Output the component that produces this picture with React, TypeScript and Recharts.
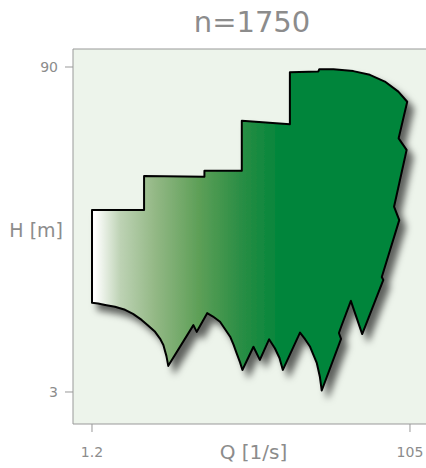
import { ScatterChart, Scatter, XAxis, YAxis, CartesianGrid, Polygon } from "recharts";

// pump envelope outline, clockwise from the top-left corner
const ENVELOPE_Q = [
  1.2, 18.2, 18.2, 37.9, 37.9, 50.1, 50.1, 65.8, 65.8, 75.1, 75.4, 80.0, 86.5, 91.9,
  96.8, 101.2, 104.1, 101.3, 103.9, 99.8, 101.5, 96.1, 95.8, 96.3, 89.4, 85.7, 82.5,
  81.8, 82.5, 76.2, 75.6, 74.6, 72.4, 70.7, 69.1, 63.5, 62.4, 60.9, 59.0, 56.0, 53.9, 50.3,
  49.5, 48.4, 47.4, 46.3, 43.0, 40.7, 38.8, 35.4, 34.3, 26.1, 25.5, 24.5, 23.4, 21.8, 19.5,
  17.4, 14.6, 12.0, 8.7, 5.5, 3.2, 1.2,
];
const ENVELOPE_H = [
  51.7, 51.7, 60.8, 60.6, 62.2, 62.2, 75.6, 74.7, 88.6, 88.8, 89.4, 89.4, 88.9, 87.9,
  86.1, 83.4, 80.7, 70.9, 67.8, 52.6, 49.0, 34.6, 33.8, 33.0, 18.5, 27.4, 20.4,
  18.8, 17.2, 3.4, 7.0, 10.7, 15.1, 17.2, 18.9, 8.9, 12.1, 14.7, 17.1, 11.6, 15.1, 8.9,
  11.0, 13.4, 15.7, 17.8, 21.8, 23.2, 24.1, 19.1, 20.9, 10.0, 12.6, 15.6, 17.3, 19.1, 20.8,
  22.3, 23.9, 25.0, 25.8, 26.3, 26.7, 26.9,
];
const Q_TICKS = [1.2, 105];
const H_TICKS = [3, 90];
const Q_DOMAIN = [-5, 114.8];
const H_DOMAIN = [-5.57, 94.82];
const TITLE = "n=1750";

const data = ENVELOPE_Q.map((q, i) => ({ q, h: ENVELOPE_H[i] }));

const GREY = "#999999";
const TEXT = "#8c8c8c";

export default function App() {
  return (
    <div
      style={{
        position: "absolute",
        left: 0,
        top: 0,
        width: 426,
        height: 468,
        overflow: "hidden",
        fontFamily: "'DejaVu Sans', sans-serif",
      }}
    >
      <div
        style={{
          position: "absolute",
          left: 152,
          top: 8,
          width: 200,
          textAlign: "center",
          fontSize: 29,
          lineHeight: "29px",
          color: TEXT,
        }}
      >
        {TITLE}
      </div>
      <ScatterChart width={440} height={468} margin={{ top: 48, right: 0, bottom: 0, left: 0 }}>
        <defs>
          <linearGradient id="envGrad" x1="0" y1="0" x2="1" y2="0">
            <stop offset="0.01" stopColor="#ffffff" />
            <stop offset="0.09" stopColor="#bdd2b4" />
            <stop offset="0.2" stopColor="#93b885" />
            <stop offset="0.34" stopColor="#5d9f57" />
            <stop offset="0.47" stopColor="#2b8e45" />
            <stop offset="0.6" stopColor="#00853a" />
            <stop offset="1" stopColor="#00853a" />
          </linearGradient>
          <filter id="envShadow" x="-10%" y="-10%" width="130%" height="130%">
            <feDropShadow dx="6" dy="7" stdDeviation="3.5" floodColor="#000" floodOpacity="0.6" />
          </filter>
        </defs>
        <CartesianGrid horizontal={false} vertical={false} fill="#edf4eb" stroke="none" />
        <XAxis
          xAxisId="top"
          orientation="top"
          type="number"
          domain={Q_DOMAIN}
          allowDataOverflow
          height={1}
          tick={false}
          tickLine={false}
          axisLine={{ stroke: GREY }}
        />
        <XAxis
          dataKey="q"
          type="number"
          domain={Q_DOMAIN}
          allowDataOverflow
          ticks={Q_TICKS}
          interval={0}
          height={44}
          tickSize={8}
          tickMargin={15}
          axisLine={{ stroke: GREY }}
          tickLine={{ stroke: GREY }}
          tick={{ fill: TEXT, fontSize: 14 }}
          label={{ value: "Q [1/s]", position: "insideBottom", offset: 9, fill: TEXT, fontSize: 20, dx: -3 }}
        />
        <YAxis
          dataKey="h"
          type="number"
          domain={H_DOMAIN}
          allowDataOverflow
          ticks={H_TICKS}
          interval={0}
          width={73}
          tickSize={8}
          tickMargin={7}
          axisLine={{ stroke: GREY }}
          tickLine={{ stroke: GREY }}
          tick={{ fill: TEXT, fontSize: 14 }}
          label={{ value: "H [m]", position: "insideRight", offset: 10, fill: TEXT, fontSize: 19, dy: -6 }}
        />
        <Scatter
          data={data}
          isAnimationActive={false}
          shape={() => <g />}
          lineType="joint"
          line={(p: any) => (
            <Polygon
              points={p.points}
              fill="url(#envGrad)"
              stroke="#000"
              strokeWidth={2}
              strokeLinejoin="round"
              filter="url(#envShadow)"
            />
          )}
        />
      </ScatterChart>
    </div>
  );
}
